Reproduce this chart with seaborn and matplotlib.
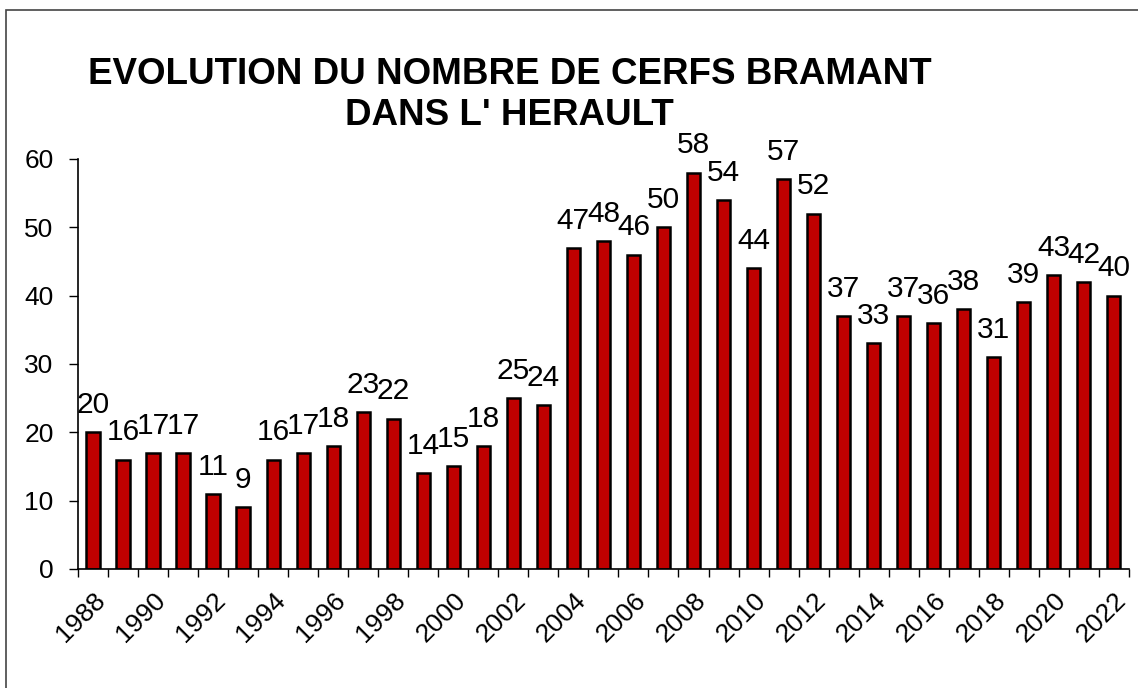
import pandas as pd
import seaborn as sns
import matplotlib.pyplot as plt
from matplotlib.patches import Rectangle
from matplotlib.ticker import FixedLocator
from matplotlib.transforms import ScaledTranslation

years = list(range(1988, 2023))
counts = [20, 16, 17, 17, 11, 9, 16, 17, 18, 23, 22, 14, 15, 18, 25, 24,
          47, 48, 46, 50, 58, 54, 44, 57, 52, 37, 33, 37, 36, 38, 31, 39,
          43, 42, 40]
y_ticks = [0, 10, 20, 30, 40, 50, 60]
title = "EVOLUTION DU NOMBRE DE CERFS BRAMANT\nDANS L' HERAULT"


def main():
    df = pd.DataFrame({'year': [str(y) for y in years], 'count': counts})

    sns.set_style('white')
    plt.rcParams['font.family'] = ['Liberation Sans', 'DejaVu Sans']
    plt.rcParams['text.color'] = 'black'
    plt.rcParams['xtick.color'] = 'black'
    plt.rcParams['ytick.color'] = 'black'

    fig = plt.figure(figsize=(11.38, 6.88), dpi=100)
    ax = fig.add_axes([0.0685, 0.173, 0.9235, 0.596])

    # outer frame, like the spreadsheet chart area
    fig.patches.append(Rectangle((6 / 1138, -0.05), 1.1, 1 - 10 / 688 + 0.05,
                                 transform=fig.transFigure, fill=False,
                                 edgecolor='#444444', linewidth=1.2))

    sns.barplot(data=df, x='year', y='count', color='#C00000', saturation=1,
                width=0.44, edgecolor='black', linewidth=1.8, ax=ax)

    for i, v in enumerate(counts):
        ax.annotate(str(v), (i, v), xytext=(0, 9.5), textcoords='offset points',
                    ha='center', va='bottom', fontsize=21.5)

    ax.set_xlim(-0.5, len(years) - 0.5)
    ax.set_ylim(0, 60)
    ax.set_yticks(y_ticks)
    ax.set_yticklabels([str(t) for t in y_ticks], fontsize=19)

    even = [i for i, y in enumerate(years) if y % 2 == 0]
    ax.set_xticks(even)
    ax.set_xticklabels([str(years[i]) for i in even], fontsize=19,
                       rotation=45, ha='right', rotation_mode='anchor')
    shift = ScaledTranslation(-10 / 100, 0, fig.dpi_scale_trans)
    for lab in ax.get_xticklabels():
        lab.set_transform(lab.get_transform() + shift)
    ax.xaxis.set_minor_locator(FixedLocator([i - 0.5 for i in range(len(years) + 1)]))
    ax.tick_params(axis='x', which='major', length=0, pad=14)
    ax.tick_params(axis='x', which='minor', length=6, width=1, color='black',
                   direction='out', bottom=True)
    ax.tick_params(axis='y', length=6.5, width=1, color='black', direction='out',
                   left=True, pad=11)

    ax.set_xlabel('')
    ax.set_ylabel('')
    sns.despine(ax=ax)
    for s in ['left', 'bottom']:
        ax.spines[s].set_color('black')
        ax.spines[s].set_linewidth(1.2)

    fig.text(0.448, 0.917, title, ha='center', va='top', fontsize=26.5,
             fontweight='bold', linespacing=1.2)

    fig.savefig('out.png', dpi=100)
    plt.close(fig)


if __name__ == "__main__":
    main()
